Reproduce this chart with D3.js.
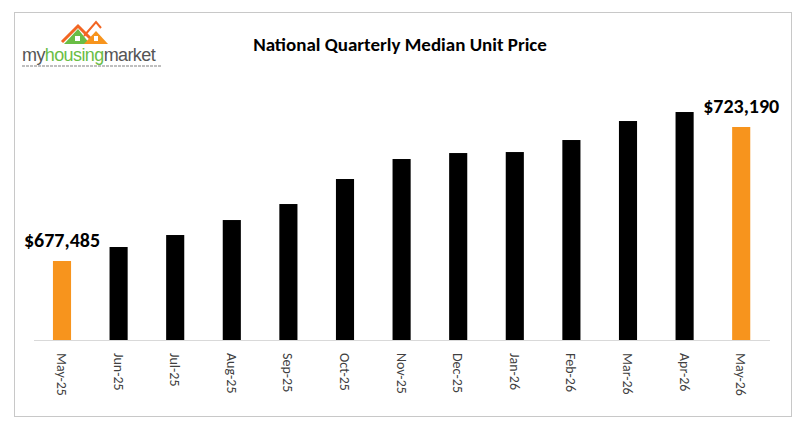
<!DOCTYPE html>
<html><head><meta charset="utf-8">
<script src="https://cdn.jsdelivr.net/npm/d3@7"></script>
<style>body{margin:0;background:#fff}</style>
</head><body>
<svg id="c" width="800" height="427"></svg>
<script>
const months = ["May-25","Jun-25","Jul-25","Aug-25","Sep-25","Oct-25","Nov-25","Dec-25","Jan-26","Feb-26","Mar-26","Apr-26","May-26"];
const prices = [677485,682260,686350,691460,696920,705450,712270,714310,714650,718750,725230,728300,723190];
const highlighted = ["May-25","May-26"];

const svg = d3.select("#c");
svg.append("rect").attr("x",14.5).attr("y",12.5).attr("width",777).attr("height",404)
  .attr("fill","#fff").attr("stroke","#c8c8c8");

const x = d3.scaleBand().domain(months).range([33.7,769.5]).paddingInner(0.68).paddingOuter(0.34);
const y = d3.scaleLinear().domain([650546,723190]).range([340,127]);

svg.append("text").attr("x",400).attr("y",51).attr("text-anchor","middle")
  .attr("font-family","Calibri, 'Liberation Sans', Arial").attr("font-weight","bold").attr("font-size",19)
  .text("National Quarterly Median Unit Price");

svg.selectAll("rect.bar").data(months).enter().append("rect").attr("class","bar")
  .attr("x",d=>x(d)).attr("width",x.bandwidth())
  .attr("y",(d,i)=>y(prices[i])).attr("height",(d,i)=>340-y(prices[i]))
  .attr("fill",d=>highlighted.includes(d)?"#f7941d":"#000");

svg.append("line").attr("x1",34).attr("x2",770).attr("y1",340.5).attr("y2",340.5).attr("stroke","#d9d9d9");

svg.selectAll("text.tick").data(months).enter().append("text").attr("class","tick")
  .attr("transform",d=>`translate(${x(d)+x.bandwidth()/2-5},353) rotate(90)`)
  .attr("font-family","Calibri, 'Liberation Sans', Arial").attr("font-size",14).attr("fill","#404040")
  .text(d=>d);

const fmt = d3.format("$,");
[0,12].forEach(i=>{
  svg.append("text").attr("x",x(months[i])+x.bandwidth()/2).attr("y",y(prices[i])-14)
    .attr("text-anchor","middle").attr("font-family","Calibri, 'Liberation Sans', Arial")
    .attr("font-weight","bold").attr("font-size",20).text(fmt(prices[i]));
});

// logo
const g = svg.append("g");
g.append("polyline").attr("points","62,42 78,26 92,40").attr("fill","none").attr("stroke","#f26522").attr("stroke-width",3);
g.append("polygon").attr("points","64,44 78,29 90,44").attr("fill","#6abd45");
g.append("polygon").attr("points","84,44 96,31 108,44").attr("fill","#f7941d");
g.append("polyline").attr("points","84,36 96,22 101,28").attr("fill","none").attr("stroke","#f26522").attr("stroke-width",2);
g.append("rect").attr("x",75).attr("y",36).attr("width",5).attr("height",5).attr("fill","#fff");
g.append("rect").attr("x",94).attr("y",36).attr("width",4).attr("height",5).attr("fill","#fff");
const t = g.append("text").attr("x",22).attr("y",61).attr("font-family","'Liberation Sans', Arial").attr("font-size",18).attr("letter-spacing","-0.6");
t.append("tspan").attr("fill","#555").text("my");
t.append("tspan").attr("fill","#6abd45").text("housing");
t.append("tspan").attr("fill","#555").text("market");
g.append("line").attr("x1",22).attr("x2",162).attr("y1",66).attr("y2",66).attr("stroke","#aaa").attr("stroke-width",1.5).attr("stroke-dasharray","3,1");
</script>
</body></html>
